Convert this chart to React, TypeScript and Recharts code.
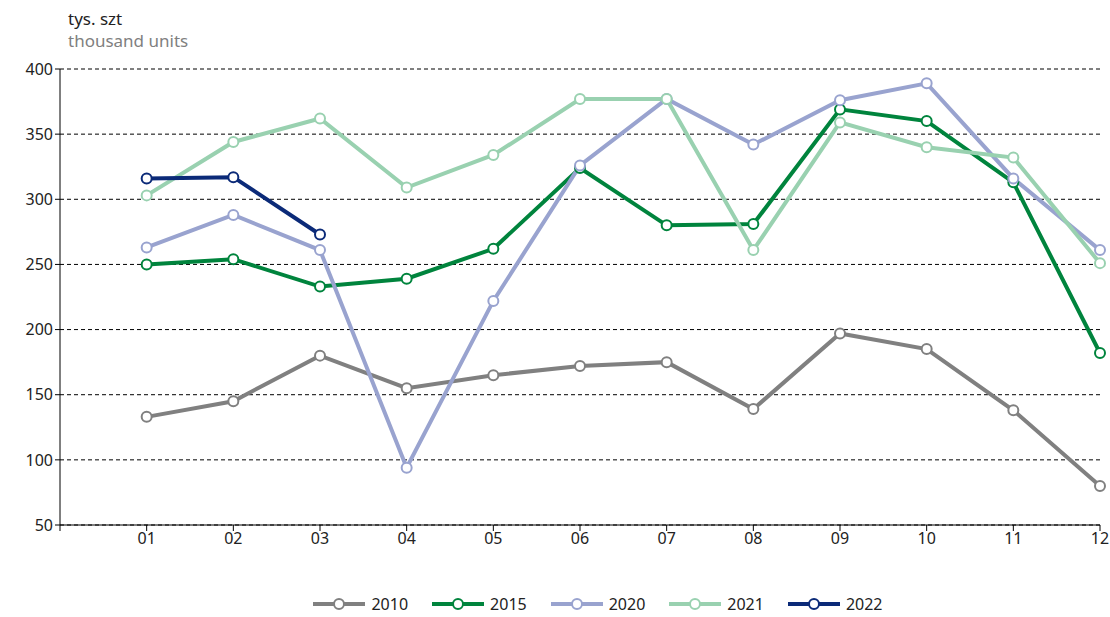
import { LineChart, Line, XAxis, YAxis, CartesianGrid, Legend } from "recharts";

const months = ["01", "02", "03", "04", "05", "06", "07", "08", "09", "10", "11", "12"];
const s2010 = [133, 145, 180, 155, 165, 172, 175, 139, 197, 185, 138, 80];
const s2015 = [250, 254, 233, 239, 262, 324, 280, 281, 369, 360, 313, 182];
const s2020 = [263, 288, 261, 94, 222, 326, 377, 342, 376, 389, 316, 261];
const s2021 = [303, 344, 362, 309, 334, 377, 377, 261, 359, 340, 332, 251];
const s2022 = [316, 317, 273];
const yTicks = [50, 100, 150, 200, 250, 300, 350, 400];

const series = [
  { key: "y2010", name: "2010", values: s2010, color: "#808080" },
  { key: "y2015", name: "2015", values: s2015, color: "#00843d" },
  { key: "y2020", name: "2020", values: s2020, color: "#99a3cf" },
  { key: "y2021", name: "2021", values: s2021, color: "#99d1b0" },
  { key: "y2022", name: "2022", values: s2022, color: "#0b2a78" },
];

const data = months.map((m, i) => {
  const row: any = { x: i + 1, label: m };
  series.forEach((s) => {
    if (i < s.values.length) row[s.key] = s.values[i];
  });
  return row;
});

const font = "'Noto Sans', sans-serif";

function LegendContent() {
  return (
    <div style={{ display: "flex", justifyContent: "center", gap: 22, paddingLeft: 84, fontFamily: font, fontSize: 16, color: "#222" }}>
      {series.map((s) => (
        <div key={s.key} style={{ display: "flex", alignItems: "center", gap: 4 }}>
          <svg width={56} height={14}>
            <line x1={2} y1={7} x2={54} y2={7} stroke={s.color} strokeWidth={4} />
            <circle cx={28} cy={7} r={5} fill="#fff" stroke={s.color} strokeWidth={2} />
          </svg>
          <span>{s.name}</span>
        </div>
      ))}
    </div>
  );
}

export default function App() {
  return (
    <div style={{ position: "absolute", left: 0, top: 0, width: 1110, height: 617, background: "#fff", fontFamily: font }}>
      <div style={{ position: "absolute", left: 68, top: 8, fontSize: 17, lineHeight: "22px" }}>
        <div style={{ color: "#222" }}>tys. szt</div>
        <div style={{ color: "#808080" }}>thousand units</div>
      </div>
      <LineChart width={1110} height={617} data={data} margin={{ top: 69, right: 10, left: 10, bottom: 20 }}>
        <CartesianGrid vertical={false} stroke="#000" strokeDasharray="4 3" />
        <XAxis
          dataKey="x"
          type="number"
          domain={[0, 12]}
          ticks={[0, 1, 2, 3, 4, 5, 6, 7, 8, 9, 10, 11, 12]}
          tickFormatter={(v) => (v === 0 ? "" : months[v - 1])}
          axisLine={{ stroke: "#000" }}
          tickLine={{ stroke: "#000" }}
          tick={{ fill: "#222", fontSize: 16, fontFamily: font }}
          height={36}
          tickSize={6}
        />
        <YAxis
          domain={[50, 400]}
          ticks={yTicks}
          width={50}
          axisLine={{ stroke: "#000" }}
          tickLine={{ stroke: "#000" }}
          tickSize={5}
          tick={{ fill: "#222", fontSize: 16, fontFamily: font }}
        />
        <Legend verticalAlign="bottom" height={36} content={<LegendContent />} wrapperStyle={{ bottom: -12 }} />
        {series.map((s) => (
          <Line
            key={s.key}
            dataKey={s.key}
            name={s.name}
            stroke={s.color}
            strokeWidth={4}
            dot={{ r: 5, fill: "#fff", stroke: s.color, strokeWidth: 2 }}
            activeDot={false}
            isAnimationActive={false}
          />
        ))}
      </LineChart>
    </div>
  );
}
